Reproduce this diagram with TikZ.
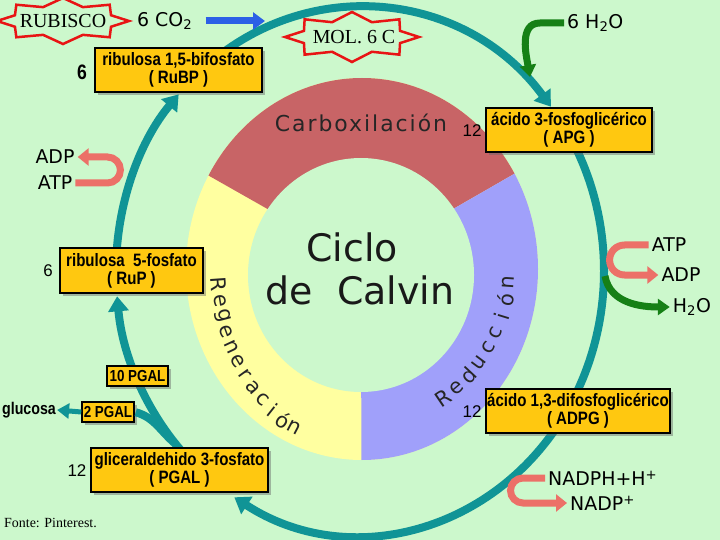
\documentclass[tikz,border=0pt]{standalone}
\usepackage{fontspec}
\setmainfont{Liberation Serif}
\newfontfamily\sansfam{DejaVu Sans}
\newfontfamily\arialfam{Liberation Sans}
\newfontfamily\cajafam[FakeStretch=0.84]{Liberation Sans}
\usetikzlibrary{arrows.meta,shadows}

\definecolor{fondo}{RGB}{204,248,204}
\definecolor{cian}{RGB}{16,148,150}
\definecolor{amarillocaja}{RGB}{255,200,16}
\definecolor{rojo}{RGB}{200,100,102}
\definecolor{amarillo}{RGB}{255,255,160}
\definecolor{lila}{RGB}{160,160,250}
\definecolor{salmon}{RGB}{236,112,104}
\definecolor{verde}{RGB}{22,128,22}
\definecolor{azul}{RGB}{44,96,230}
\definecolor{rojoestrella}{RGB}{232,20,20}

\tikzset{
  caja/.style={draw=black, line width=1.5bp, fill=amarillocaja, inner sep=1bp, align=center,
    font=\cajafam\bfseries\fontsize{18}{18}\selectfont,
    drop shadow={shadow xshift=3bp, shadow yshift=-3bp, opacity=.45, fill=black!60}},
  flecha/.style={cian, line width=8bp, -{Triangle[length=15bp,width=20bp]}},
  linea/.style={cian, line width=8bp},
  rosa/.style={salmon, line width=7bp, -{Triangle[length=11bp,width=17bp]}},
  verdeflecha/.style={verde, line width=7bp, -{Triangle[length=12bp,width=16bp]}},
  etiq/.style={inner sep=3bp, font=\sansfam\fontsize{19}{20}\selectfont},
  num/.style={inner sep=1bp, font=\arialfam\fontsize{17}{18}\selectfont},
  letra/.style={inner sep=0pt, text=black!85, font=\sansfam\fontsize{21}{22}\selectfont},
  estrella/.style={draw=rojoestrella, line width=2.5bp, fill=fondo},
  serif/.style={inner sep=1bp, font=\fontsize{20}{22}\selectfont}
}

\begin{document}
\begin{tikzpicture}[x=1bp,y=1bp]
  \useasboundingbox (0,0) rectangle (720,-540);
  \fill[fondo] (0,0) rectangle (720,-540);

  % anillo
  \fill[amarillo] (362,-269) ellipse [x radius=176, y radius=191];
  \begin{scope}
    \clip (362,-269) ellipse [x radius=176, y radius=191];
    \fill[rojo] (361,-262) -- (100,-114) -- (100,0) -- (620,0) -- (620,-113) -- cycle;
    \fill[lila] (361,-262) -- (620,-113) -- (620,-540) -- (361.5,-540) -- cycle;
  \end{scope}
  \fill[fondo] (361,-275) ellipse [x radius=113, y radius=117];

  \node[inner sep=0pt, text=black!85, font=\sansfam\fontsize{22}{24}\selectfont] (carbox) at (361,-123)
    {\addfontfeature{LetterSpace=9}Carboxilación};
  \node[inner sep=0pt, text=black!90, font=\sansfam\fontsize{38}{40}\selectfont] (ciclo) at (352,-247) {Ciclo};
  \node[inner sep=0pt, text=black!90, font=\sansfam\fontsize{38}{40}\selectfont] (calvin) at (360,-290) {de\ \ Calvin};
  \foreach \l [count=\i from 0] in {R,e,g,e,n,e,r,a,c,i,ó,n} {
    \pgfmathsetmacro\t{184+\i*5.3}
    \node[letra, rotate=\t+90] (reg\i) at ({361+143*cos(\t)},{-272+176*sin(\t)}) {\l};
  }
  \foreach \l [count=\i from 0] in {R,e,d,u,c,c,i,ó,n} {
    \pgfmathsetmacro\t{-56+\i*6.5}
    \node[letra, rotate=\t+90] (red\i) at ({361+147*cos(\t)},{-272+152*sin(\t)}) {\l};
  }

  % ciclo
  \coordinate (cc) at (360,-271);
  \path (cc) ++(127:244 and 264) coordinate (a1);
  \path (cc) ++(28:244 and 264) coordinate (b1);
  \path (cc) ++(-32:244 and 264) coordinate (b2);
  \path (cc) ++(224:244 and 264) coordinate (c1);
  \path (cc) ++(178:244 and 264) coordinate (d1);
  \path (cc) ++(221:244 and 264) coordinate (e1);
  \draw[flecha] (a1) arc[start angle=127, end angle=38.5, x radius=244, y radius=264];
  \draw[linea] (b1) arc[start angle=28, end angle=-28, x radius=244, y radius=264];
  \draw[flecha] (b2) arc[start angle=-32, end angle=-121, x radius=244, y radius=264];
  \draw[flecha] (c1) arc[start angle=224, end angle=185.5, x radius=244, y radius=264];
  \draw[flecha] (d1) arc[start angle=178, end angle=138, x radius=244, y radius=264];

  % estrellas
  \draw[estrella] plot[variable=\k, samples at={0,...,15}]
    ({63+ifthenelse(iseven(\k),66,52)*cos(22.5*\k)}, {-21+ifthenelse(iseven(\k),23,15)*sin(22.5*\k)}) -- cycle;
  \node[serif] (rubisco) at (63,-21) {RUBISCO};
  \draw[estrella] plot[variable=\k, samples at={0,...,15}]
    ({352+ifthenelse(iseven(\k),67,52)*cos(22.5*\k)}, {-37+ifthenelse(iseven(\k),25,16)*sin(22.5*\k)}) -- cycle;
  \node[serif] (mol) at (354,-37) {MOL. 6 C};

  % cajas
  \node[caja, minimum width=167bp, minimum height=44bp] (rubp) at (178.5,-70) {ribulosa 1,5-bifosfato\\( RuBP )};
  \node[caja, minimum width=166bp, minimum height=44bp] (apg) at (569,-130) {ácido 3-fosfoglicérico\\( APG )};
  \node[caja, minimum width=143bp, minimum height=45bp] (rup) at (131.5,-270.5) {ribulosa\ \ 5-fosfato\\( RuP )};
  \node[caja, minimum width=61bp, minimum height=20bp, font=\cajafam\bfseries\fontsize{16}{16}\selectfont] (pgal10) at (137.5,-376) {10 PGAL};
  \node[caja, minimum width=52bp, minimum height=20bp, font=\cajafam\bfseries\fontsize{16}{16}\selectfont] (pgal2) at (108,-412) {2 PGAL};
  \node[caja, minimum width=177bp, minimum height=44bp] (pgal) at (179.5,-470) {gliceraldehido 3-fosfato\\( PGAL )};
  \node[caja, minimum width=182bp, minimum height=44bp] (adpg) at (578,-411) {ácido 1,3-difosfoglicérico\\( ADPG )};

  \node[num, font=\cajafam\bfseries\fontsize{21}{22}\selectfont] (n1) at (82,-72) {6};
  \node[num] (n2) at (472,-131) {12};
  \node[num] (n3) at (48,-271) {6};
  \node[num] (n4) at (77,-471) {12};
  \node[num] (n5) at (472,-412) {12};

  \node[inner sep=1bp, font=\cajafam\bfseries\fontsize{17}{18}\selectfont] (glucosa) at (29,-410) {glucosa};
  \draw[linea, shorten >=1bp] (e1) to[out=140, in=-15] (pgal2.east);
  \draw[cian, line width=5bp, -{Triangle[length=12bp,width=15bp]}] (pgal2.west) -- (glucosa.east);

  % entradas y salidas
  \node[etiq, anchor=west] (co2) at (134,-21) {6 CO\textsubscript{2}};
  \coordinate (co2tip) at (265,-21);
  \draw[azul, line width=7bp, -{Triangle[length=12bp,width=17bp]}, shorten <=10bp] (co2.east) -- (co2tip);

  \node[etiq, anchor=west] (h2oT) at (564,-23) {6 H\textsubscript{2}O};
  \coordinate (h2oTip) at (530,-77);
  \draw[verdeflecha] (h2oT.west) -- ++(-24,0) to[out=180, in=100] (h2oTip);

  \node[etiq] (adpL) at (55,-157) {ADP};
  \node[etiq] (atpL) at (55,-183) {ATP};
  \draw[rosa] (atpL.east) -- ++(32,0) arc[start angle=-90, end angle=90, radius=13] -- (adpL.east);

  \node[etiq] (atpR) at (669,-245) {ATP};
  \node[etiq] (adpR) at (681,-275) {ADP};
  \node[etiq] (h2oR) at (692,-307) {H\textsubscript{2}O};
  \draw[rosa] (atpR.west) -- ++(-24,0) arc[start angle=90, end angle=270, radius=15] -- (adpR.west);
  \coordinate (g0) at (605,-276);
  \draw[verdeflecha] (g0) to[out=-80, in=180] (h2oR.west);

  \node[etiq, anchor=west] (nadph) at (545,-478) {NADPH+H\textsuperscript{+}};
  \node[etiq, anchor=west] (nadp) at (567,-503) {NADP\textsuperscript{+}};
  \draw[rosa] (nadph.west) -- ++(-22,0) arc[start angle=90, end angle=270, radius=12.5] -- (nadp.west);

  \node[anchor=west, inner sep=0pt, font=\fontsize{14}{16}\selectfont] (fonte) at (4,-523) {Fonte: Pinterest.};
\end{tikzpicture}
\end{document}
